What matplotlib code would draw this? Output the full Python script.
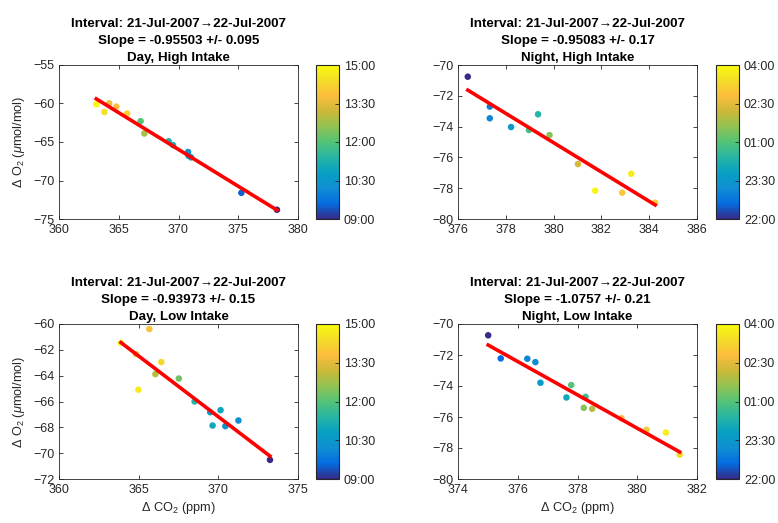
import numpy as np
import matplotlib
matplotlib.use('Agg')
import matplotlib.pyplot as plt
from matplotlib.colors import LinearSegmentedColormap

plt.rcParams['font.family'] = ['Liberation Sans', 'DejaVu Sans']
plt.rcParams['mathtext.fontset'] = 'custom'
plt.rcParams['mathtext.rm'] = 'Liberation Sans'
plt.rcParams['mathtext.it'] = 'Liberation Sans:italic'

# parula-like colormap
parula_pts = [(0.2081, 0.1663, 0.5292), (0.0166, 0.4266, 0.8786), (0.0641, 0.5570, 0.8240),
              (0.0239, 0.6287, 0.7643), (0.1540, 0.7097, 0.6453), (0.3256, 0.7634, 0.4653),
              (0.5709, 0.7612, 0.3237), (0.7964, 0.7234, 0.2187), (0.9900, 0.7426, 0.2399),
              (0.9535, 0.8627, 0.1567), (0.9763, 0.9831, 0.0538)]
parula = LinearSegmentedColormap.from_list('parula', parula_pts)

interval = 'Interval: 21-Jul-2007\u219222-Jul-2007'

# Day, High Intake
dh_co2 = [363.12, 363.8, 364.2, 364.8, 365.7, 366.83, 367.14, 369.18, 369.54, 370.8, 370.85, 371.05, 375.26, 378.24]
dh_o2 = [-60.11, -61.1, -59.98, -60.4, -61.3, -62.3, -63.9, -64.9, -65.4, -66.3, -66.8, -67.0, -71.6, -73.8]
dh_t = [15.0, 14.5, 13.6, 13.8, 14.2, 12.0, 12.8, 11.3, 11.1, 10.3, 10.2, 10.4, 9.5, 9.0]
dh_fit = (-0.95503, 287.39)

# Night, High Intake (hours past midnight of first day)
nh_co2 = [376.41, 377.33, 377.33, 378.22, 378.97, 379.35, 379.83, 381.02, 381.74, 382.87, 383.25, 384.25]
nh_o2 = [-70.76, -72.7, -73.46, -74.03, -74.22, -73.2, -74.55, -76.43, -78.16, -78.29, -77.06, -78.94]
nh_t = [22.0, 23.0, 23.1, 23.6, 24.8, 24.4, 25.5, 26.3, 27.9, 27.0, 27.7, 27.2]
nh_fit = (-0.95083, 286.27)

# Day, Low Intake
dl_co2 = [363.89, 364.83, 365.67, 366.42, 366.05, 364.98, 367.52, 368.51, 369.49, 369.64, 370.14, 370.44, 371.26, 373.24]
dl_o2 = [-61.47, -62.33, -60.39, -62.95, -63.88, -65.09, -64.22, -66.0, -66.83, -67.86, -66.67, -67.91, -67.47, -70.52]
dl_t = [15.0, 13.8, 13.9, 14.3, 13.0, 14.7, 12.3, 11.4, 10.8, 11.0, 10.9, 10.3, 10.2, 9.0]
dl_fit = (-0.93973, 280.52)

# Night, Low Intake
nl_co2 = [375.01, 375.43, 376.32, 376.59, 376.76, 377.63, 377.79, 378.27, 378.21, 378.49, 379.47, 380.31, 380.96, 381.42]
nl_o2 = [-70.73, -72.22, -72.24, -72.46, -73.79, -74.74, -73.94, -74.7, -75.41, -75.47, -76.08, -76.83, -77.0, -78.43]
nl_t = [22.0, 22.6, 23.1, 23.2, 23.6, 24.0, 25.0, 24.7, 25.5, 26.0, 26.8, 27.0, 27.8, 27.3]
nl_fit = (-1.0757, 332.04)

panels = [
    (dh_co2, dh_o2, dh_t, dh_fit, '-0.95503 +/- 0.095', 'Day, High Intake', (360, 380), (-75, -55), np.arange(360, 381, 5), np.arange(-75, -54, 5), 'day'),
    (nh_co2, nh_o2, nh_t, nh_fit, '-0.95083 +/- 0.17', 'Night, High Intake', (376, 386), (-80, -70), np.arange(376, 387, 2), np.arange(-80, -69, 2), 'night'),
    (dl_co2, dl_o2, dl_t, dl_fit, '-0.93973 +/- 0.15', 'Day, Low Intake', (360, 375), (-72, -60), np.arange(360, 376, 5), np.arange(-72, -59, 2), 'day'),
    (nl_co2, nl_o2, nl_t, nl_fit, '-1.0757 +/- 0.21', 'Night, Low Intake', (374, 382), (-80, -70), np.arange(374, 383, 2), np.arange(-80, -69, 2), 'night'),
]

W, H = 778, 523
ax_px = [(59, 65, 298, 219), (458, 65, 697, 219), (59, 324, 298, 479), (458, 324, 697, 479)]
cb_px = [(316, 65, 339, 219), (716, 65, 739, 219), (316, 324, 339, 479), (716, 324, 739, 479)]

def rect(p):
    l, t, r, b = p
    return [l / W, 1 - b / H, (r - l) / W, (b - t) / H]

fig = plt.figure(figsize=(W / 100, H / 100), dpi=100)
grey = '#262626'

for i, (x, y, t, fit, slope_txt, name, xl, yl, xt, yt, kind) in enumerate(panels):
    ax = fig.add_axes(rect(ax_px[i]))
    if kind == 'day':
        vmin, vmax = 9, 15
        cticks = [9, 10.5, 12, 13.5, 15]
    else:
        vmin, vmax = 22, 28
        cticks = [22, 23.5, 25, 26.5, 28]
    sc = ax.scatter(x, y, c=t, cmap=parula, vmin=vmin, vmax=vmax, s=22, linewidths=0, zorder=2)
    xs = np.array([min(x), max(x)])
    ax.plot(xs, fit[0] * xs + fit[1], color='red', lw=2.6, zorder=3)
    ax.set_xlim(xl)
    ax.set_ylim(yl)
    ax.set_xticks(xt)
    ax.set_yticks(yt)
    ax.tick_params(direction='in', top=True, right=True, labelsize=9, colors=grey, length=3, width=0.6)
    for sp in ax.spines.values():
        sp.set_color(grey)
        sp.set_linewidth(0.6)
    ax.set_title(interval + '\nSlope = ' + slope_txt + '\n' + name,
                 fontsize=9.6, fontweight='bold', linespacing=1.55, pad=3)
    if i in (0, 2):
        ax.set_ylabel(r'$\Delta$ O$_2$ ($\mathit{\mu}$mol/mol)', fontsize=9.2, color=grey, labelpad=4)
    if i in (2, 3):
        ax.set_xlabel(r'$\Delta$ CO$_2$ (ppm)', fontsize=9.2, color=grey, labelpad=3)

    cax = fig.add_axes(rect(cb_px[i]))
    cb = fig.colorbar(sc, cax=cax, ticks=cticks)
    cb.ax.set_yticklabels(['%02d:%02d' % (int(v) % 24, int(round((v % 1) * 60))) for v in cticks])
    cb.ax.tick_params(direction='in', labelsize=9, colors=grey, length=3, width=0.6)
    cb.outline.set_edgecolor(grey)
    cb.outline.set_linewidth(0.8)

fig.savefig('out.png', dpi=100)
